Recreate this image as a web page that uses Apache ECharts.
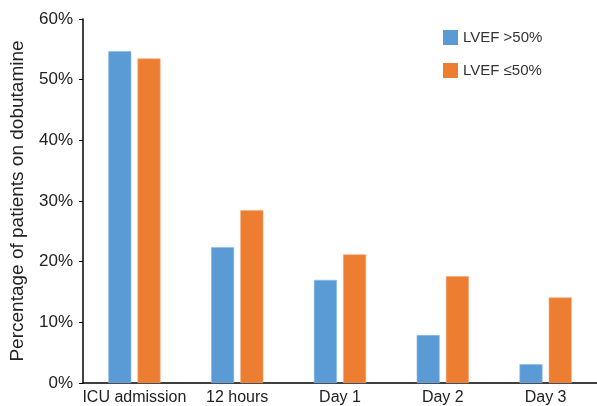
<!DOCTYPE html>
<html><head><meta charset="utf-8">
<script src="https://cdn.jsdelivr.net/npm/echarts@6/dist/echarts.min.js"></script>
<style>html,body{margin:0;padding:0;background:#fff}#c{width:597px;height:406px}</style>
</head><body><div id="c"></div>
<script>
const categories = ['ICU admission', '12 hours', 'Day 1', 'Day 2', 'Day 3'];
const seriesNames = ['LVEF >50%', 'LVEF \u226450%'];
const lvefAbove50 = [54.7, 22.4, 17.0, 7.9, 3.1];
const lvefAtOrBelow50 = [53.5, 28.5, 21.2, 17.6, 14.1];
const yTicks = [0, 10, 20, 30, 40, 50, 60];

const font = 'Liberation Sans, Arial, Helvetica, sans-serif';
const chart = echarts.init(document.getElementById('c'), null, {renderer: 'canvas'});
chart.setOption({
  animation: false,
  textStyle: {fontFamily: font},
  grid: {left: 83, top: 19, width: 517, bottom: 23, containLabel: false},
  legend: {
    orient: 'vertical', left: 438, top: 25, itemWidth: 15, itemHeight: 15, itemGap: 18,
    icon: 'rect',
    itemStyle: {borderWidth: 0},
    textStyle: {fontFamily: font, fontSize: 15, color: '#333'},
    data: seriesNames
  },
  xAxis: {
    type: 'category', data: categories,
    axisLine: {lineStyle: {color: '#000', width: 1.5}},
    axisTick: {show: false},
    axisLabel: {interval: 0, fontFamily: font, fontSize: 16, color: '#222', margin: 7}
  },
  yAxis: {
    type: 'value', min: yTicks[0], max: yTicks[yTicks.length - 1], interval: 10,
    name: 'Percentage of patients on dobutamine', nameLocation: 'middle', nameGap: 56,
    nameTextStyle: {fontFamily: font, fontSize: 19, color: '#222'},
    axisLine: {show: true, lineStyle: {color: '#000', width: 1.5}},
    axisTick: {show: true, length: 4, lineStyle: {color: '#000'}},
    splitLine: {show: false},
    axisLabel: {fontFamily: font, fontSize: 17, color: '#222', margin: 10, formatter: '{value}%'}
  },
  series: [
    {name: seriesNames[0], type: 'bar', data: lvefAbove50, barWidth: 23, barGap: '27%',
     itemStyle: {color: '#5B9BD5', borderColor: '#8cbbe6', borderWidth: 0.6}},
    {name: seriesNames[1], type: 'bar', data: lvefAtOrBelow50, barWidth: 23,
     itemStyle: {color: '#ED7D31', borderColor: '#f5a877', borderWidth: 0.6}}
  ]
});
</script></body></html>
